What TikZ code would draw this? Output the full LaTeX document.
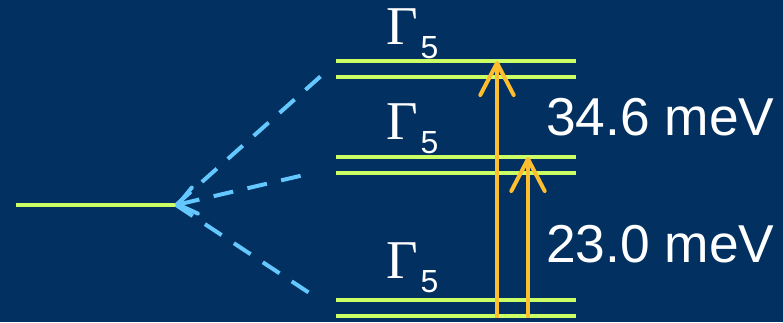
\documentclass[tikz,border=0pt]{standalone}
\usepackage{fontspec}
\setmainfont{Liberation Sans}
\newfontfamily\gammafont{Liberation Serif}
\usetikzlibrary{arrows.meta,positioning,calc}

\definecolor{navy}{RGB}{2,49,97}
\definecolor{lime}{RGB}{204,255,102}
\definecolor{skyblue}{RGB}{100,200,255}
\definecolor{amber}{RGB}{255,190,45}

\newcommand{\gfive}{{\gammafont\fontsize{41}{41}\selectfont Γ}\hspace{2pt}\raisebox{-10.5pt}{\fontsize{24}{24}\selectfont 5}}

\begin{document}
\begin{tikzpicture}[
        x=0.75pt,
        y=-0.75pt,
        every node/.style={text=white, inner sep=0pt},
        level/.style={draw=lime, line width=3pt},
        split/.style={draw=skyblue, line width=3pt, dash pattern=on 15pt off 11pt},
        excite/.style={draw=amber, line width=3pt, -{Straight Barb[length=24pt, width=25pt, round]}},
        energy/.style={font=\fontsize{40}{40}\selectfont, anchor=base west},
        irrep/.style={anchor=base west}
    ]
        \fill[navy] (0,0) rectangle (783,322);

        % free ion level
        \coordinate (g0w) at (16,205);
        \coordinate (g0) at (176,205);
        \draw[level] (g0w) -- (g0);

        % crystal field levels
        \foreach \n/\y in {top/61, mid/157, bot/300} {
            \coordinate (\n a) at (336,\y);
            \coordinate (\n b) at (576,\y);
            \coordinate (\n c) at (336,\y+16);
            \coordinate (\n d) at (576,\y+16);
            \draw[level] (\n a) -- (\n b);
            \draw[level] (\n c) -- (\n d);
        }

        % splitting lines
        \coordinate (t1) at (321,76);
        \coordinate (t2) at (304,175);
        \coordinate (t3) at (317,298);
        \draw[split] (g0) -- (t1);
        \draw[split] (g0) -- (t3);
        \draw[split, {Straight Barb[length=13pt, width=20pt, round]}-] (g0) -- (t2);

        % labels
        \node[irrep] (l1) at (386,44) {\gfive};
        \node[irrep] (l2) at (386,139) {\gfive};
        \node[irrep] (l3) at (386,278) {\gfive};

        % transitions
        \coordinate (f1) at (497,318);
        \coordinate (f2) at (528,318);
        \draw[excite] (f1) -- (f1 |- topa);
        \draw[excite] (f2) -- (f2 |- mida);

        \node[energy] (e1) at (546,135) {34.6 meV};
        \node[energy] (e2) at (546,262) {23.0 meV};
    \end{tikzpicture}
\end{document}
